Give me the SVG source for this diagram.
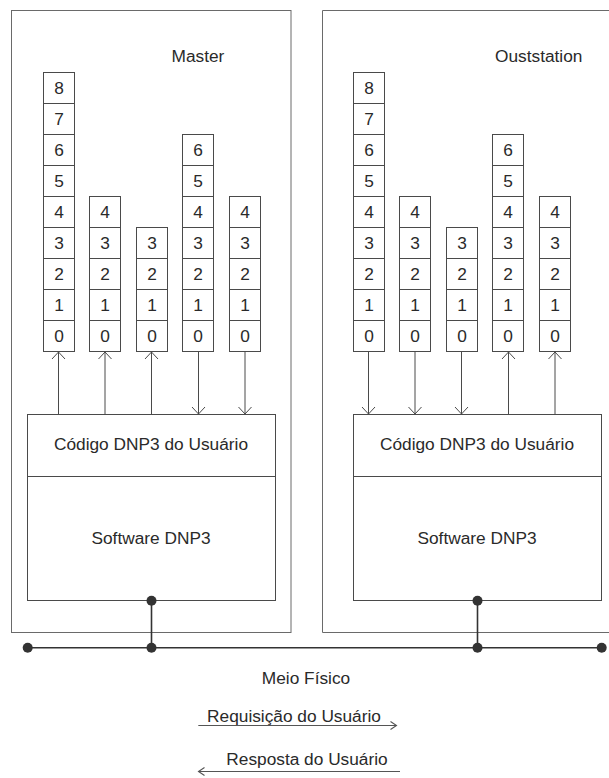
<svg xmlns="http://www.w3.org/2000/svg" width="609" height="778" viewBox="0 0 609 778">
<defs>
<style>
text{font-family:"Liberation Sans",Arial,sans-serif;font-size:17.3px;fill:#2a2a2a}
.d{text-anchor:middle}
.c{fill:#fff;stroke:#4a4a4a;stroke-width:1}
.ob{fill:none;stroke:#6a6a6a;stroke-width:1}
.ib{fill:#fff;stroke:#4a4a4a;stroke-width:1}
.ar{stroke:#4a4a4a;stroke-width:1;fill:none;marker-end:url(#ah)}
.bus{stroke:#333;stroke-width:1.6;fill:none}
.dot{fill:#333}
.sa{stroke:#555;stroke-width:1.2;fill:none}
</style>
<marker id="ah" markerUnits="userSpaceOnUse" viewBox="-9 -8 10 16" markerWidth="10" markerHeight="16" refX="0" refY="0" orient="auto" overflow="visible">
<path d="M -7 -6.5 L 0 0 L -7 6.5" fill="none" stroke="#4a4a4a" stroke-width="1"/>
</marker>
<marker id="sh" markerUnits="userSpaceOnUse" viewBox="-8 -6 10 12" markerWidth="10" markerHeight="12" refX="0" refY="0" orient="auto" overflow="visible">
<path d="M -6 -4 L 0 0 L -6 4" fill="none" stroke="#555" stroke-width="1.1"/>
</marker>
</defs>
<rect width="609" height="778" fill="#fff"/>

<g id="master">
<rect class="ob" x="11.5" y="10.5" width="279.5" height="622"/>
<text x="171.5" y="62">Master</text>
</g>
<g id="outstation">
<path class="ob" d="M 609 10.5 H 322.5 V 632.5 H 609"/>
<text x="495" y="62">Ouststation</text>
</g>

<g id="master-stack-1">
<rect class="c" x="43.5" y="72.5" width="31" height="31"/><text class="d" x="59" y="93.5">8</text>
<rect class="c" x="43.5" y="103.5" width="31" height="31"/><text class="d" x="59" y="124.5">7</text>
<rect class="c" x="43.5" y="134.5" width="31" height="31"/><text class="d" x="59" y="155.5">6</text>
<rect class="c" x="43.5" y="165.5" width="31" height="31"/><text class="d" x="59" y="186.5">5</text>
<rect class="c" x="43.5" y="196.5" width="31" height="31"/><text class="d" x="59" y="217.5">4</text>
<rect class="c" x="43.5" y="227.5" width="31" height="31"/><text class="d" x="59" y="248.5">3</text>
<rect class="c" x="43.5" y="258.5" width="31" height="31"/><text class="d" x="59" y="279.5">2</text>
<rect class="c" x="43.5" y="289.5" width="31" height="31"/><text class="d" x="59" y="310.5">1</text>
<rect class="c" x="43.5" y="320.5" width="31" height="31"/><text class="d" x="59" y="341.5">0</text>
</g>
<g id="master-stack-2">
<rect class="c" x="89.5" y="196.5" width="31" height="31"/><text class="d" x="105" y="217.5">4</text>
<rect class="c" x="89.5" y="227.5" width="31" height="31"/><text class="d" x="105" y="248.5">3</text>
<rect class="c" x="89.5" y="258.5" width="31" height="31"/><text class="d" x="105" y="279.5">2</text>
<rect class="c" x="89.5" y="289.5" width="31" height="31"/><text class="d" x="105" y="310.5">1</text>
<rect class="c" x="89.5" y="320.5" width="31" height="31"/><text class="d" x="105" y="341.5">0</text>
</g>
<g id="master-stack-3">
<rect class="c" x="136.5" y="227.5" width="31" height="31"/><text class="d" x="152" y="248.5">3</text>
<rect class="c" x="136.5" y="258.5" width="31" height="31"/><text class="d" x="152" y="279.5">2</text>
<rect class="c" x="136.5" y="289.5" width="31" height="31"/><text class="d" x="152" y="310.5">1</text>
<rect class="c" x="136.5" y="320.5" width="31" height="31"/><text class="d" x="152" y="341.5">0</text>
</g>
<g id="master-stack-4">
<rect class="c" x="182.5" y="134.5" width="31" height="31"/><text class="d" x="198" y="155.5">6</text>
<rect class="c" x="182.5" y="165.5" width="31" height="31"/><text class="d" x="198" y="186.5">5</text>
<rect class="c" x="182.5" y="196.5" width="31" height="31"/><text class="d" x="198" y="217.5">4</text>
<rect class="c" x="182.5" y="227.5" width="31" height="31"/><text class="d" x="198" y="248.5">3</text>
<rect class="c" x="182.5" y="258.5" width="31" height="31"/><text class="d" x="198" y="279.5">2</text>
<rect class="c" x="182.5" y="289.5" width="31" height="31"/><text class="d" x="198" y="310.5">1</text>
<rect class="c" x="182.5" y="320.5" width="31" height="31"/><text class="d" x="198" y="341.5">0</text>
</g>
<g id="master-stack-5">
<rect class="c" x="229.5" y="196.5" width="31" height="31"/><text class="d" x="245" y="217.5">4</text>
<rect class="c" x="229.5" y="227.5" width="31" height="31"/><text class="d" x="245" y="248.5">3</text>
<rect class="c" x="229.5" y="258.5" width="31" height="31"/><text class="d" x="245" y="279.5">2</text>
<rect class="c" x="229.5" y="289.5" width="31" height="31"/><text class="d" x="245" y="310.5">1</text>
<rect class="c" x="229.5" y="320.5" width="31" height="31"/><text class="d" x="245" y="341.5">0</text>
</g>

<g id="out-stack-1">
<rect class="c" x="353.5" y="72.5" width="31" height="31"/><text class="d" x="369" y="93.5">8</text>
<rect class="c" x="353.5" y="103.5" width="31" height="31"/><text class="d" x="369" y="124.5">7</text>
<rect class="c" x="353.5" y="134.5" width="31" height="31"/><text class="d" x="369" y="155.5">6</text>
<rect class="c" x="353.5" y="165.5" width="31" height="31"/><text class="d" x="369" y="186.5">5</text>
<rect class="c" x="353.5" y="196.5" width="31" height="31"/><text class="d" x="369" y="217.5">4</text>
<rect class="c" x="353.5" y="227.5" width="31" height="31"/><text class="d" x="369" y="248.5">3</text>
<rect class="c" x="353.5" y="258.5" width="31" height="31"/><text class="d" x="369" y="279.5">2</text>
<rect class="c" x="353.5" y="289.5" width="31" height="31"/><text class="d" x="369" y="310.5">1</text>
<rect class="c" x="353.5" y="320.5" width="31" height="31"/><text class="d" x="369" y="341.5">0</text>
</g>
<g id="out-stack-2">
<rect class="c" x="399.5" y="196.5" width="31" height="31"/><text class="d" x="415" y="217.5">4</text>
<rect class="c" x="399.5" y="227.5" width="31" height="31"/><text class="d" x="415" y="248.5">3</text>
<rect class="c" x="399.5" y="258.5" width="31" height="31"/><text class="d" x="415" y="279.5">2</text>
<rect class="c" x="399.5" y="289.5" width="31" height="31"/><text class="d" x="415" y="310.5">1</text>
<rect class="c" x="399.5" y="320.5" width="31" height="31"/><text class="d" x="415" y="341.5">0</text>
</g>
<g id="out-stack-3">
<rect class="c" x="446.5" y="227.5" width="31" height="31"/><text class="d" x="462" y="248.5">3</text>
<rect class="c" x="446.5" y="258.5" width="31" height="31"/><text class="d" x="462" y="279.5">2</text>
<rect class="c" x="446.5" y="289.5" width="31" height="31"/><text class="d" x="462" y="310.5">1</text>
<rect class="c" x="446.5" y="320.5" width="31" height="31"/><text class="d" x="462" y="341.5">0</text>
</g>
<g id="out-stack-4">
<rect class="c" x="492.5" y="134.5" width="31" height="31"/><text class="d" x="508" y="155.5">6</text>
<rect class="c" x="492.5" y="165.5" width="31" height="31"/><text class="d" x="508" y="186.5">5</text>
<rect class="c" x="492.5" y="196.5" width="31" height="31"/><text class="d" x="508" y="217.5">4</text>
<rect class="c" x="492.5" y="227.5" width="31" height="31"/><text class="d" x="508" y="248.5">3</text>
<rect class="c" x="492.5" y="258.5" width="31" height="31"/><text class="d" x="508" y="279.5">2</text>
<rect class="c" x="492.5" y="289.5" width="31" height="31"/><text class="d" x="508" y="310.5">1</text>
<rect class="c" x="492.5" y="320.5" width="31" height="31"/><text class="d" x="508" y="341.5">0</text>
</g>
<g id="out-stack-5">
<rect class="c" x="539.5" y="196.5" width="31" height="31"/><text class="d" x="555" y="217.5">4</text>
<rect class="c" x="539.5" y="227.5" width="31" height="31"/><text class="d" x="555" y="248.5">3</text>
<rect class="c" x="539.5" y="258.5" width="31" height="31"/><text class="d" x="555" y="279.5">2</text>
<rect class="c" x="539.5" y="289.5" width="31" height="31"/><text class="d" x="555" y="310.5">1</text>
<rect class="c" x="539.5" y="320.5" width="31" height="31"/><text class="d" x="555" y="341.5">0</text>
</g>

<g id="master-user-code">
<rect class="ib" x="27.5" y="414.5" width="248" height="62"/>
<text class="d" x="151" y="450">Código DNP3 do Usuário</text>
</g>
<g id="master-software">
<rect class="ib" x="27.5" y="476.5" width="248" height="124"/>
<text class="d" x="151" y="543.5">Software DNP3</text>
</g>
<g id="out-user-code">
<rect class="ib" x="353.5" y="414.5" width="248" height="62"/>
<text class="d" x="477" y="450">Código DNP3 do Usuário</text>
</g>
<g id="out-software">
<rect class="ib" x="353.5" y="476.5" width="248" height="124"/>
<text class="d" x="477" y="543.5">Software DNP3</text>
</g>

<g id="connectors">
<line class="ar" x1="58.5" y1="414.5" x2="58.5" y2="352"/>
<line class="ar" x1="105" y1="414.5" x2="105" y2="352"/>
<line class="ar" x1="151.5" y1="414.5" x2="151.5" y2="352"/>
<line class="ar" x1="198.5" y1="351.5" x2="198.5" y2="414"/>
<line class="ar" x1="245" y1="351.5" x2="245" y2="414"/>
<line class="ar" x1="368.5" y1="351.5" x2="368.5" y2="414"/>
<line class="ar" x1="415" y1="351.5" x2="415" y2="414"/>
<line class="ar" x1="461.5" y1="351.5" x2="461.5" y2="414"/>
<line class="ar" x1="508.5" y1="414.5" x2="508.5" y2="352"/>
<line class="ar" x1="555" y1="414.5" x2="555" y2="352"/>
<line class="bus" x1="27.7" y1="647.7" x2="601.7" y2="647.7"/>
<line class="bus" x1="151.5" y1="600.7" x2="151.5" y2="647.7"/>
<line class="bus" x1="477.5" y1="600.7" x2="477.5" y2="647.7"/>
<circle class="dot" cx="27.7" cy="647.7" r="5"/>
<circle class="dot" cx="151.5" cy="647.7" r="5"/>
<circle class="dot" cx="477.5" cy="647.7" r="5"/>
<circle class="dot" cx="601.7" cy="647.7" r="5"/>
<circle class="dot" cx="151.5" cy="600.7" r="5"/>
<circle class="dot" cx="477.5" cy="600.7" r="5"/>
<line class="sa" x1="198.3" y1="725.5" x2="396.5" y2="725.5" marker-end="url(#sh)"/>
<line class="sa" x1="400" y1="771.5" x2="198.5" y2="771.5" marker-end="url(#sh)"/>
</g>

<g id="labels">
<text class="d" x="306" y="684">Meio Físico</text>
<text class="d" x="294" y="722">Requisição do Usuário</text>
<text class="d" x="307" y="765">Resposta do Usuário</text>
</g>
</svg>
